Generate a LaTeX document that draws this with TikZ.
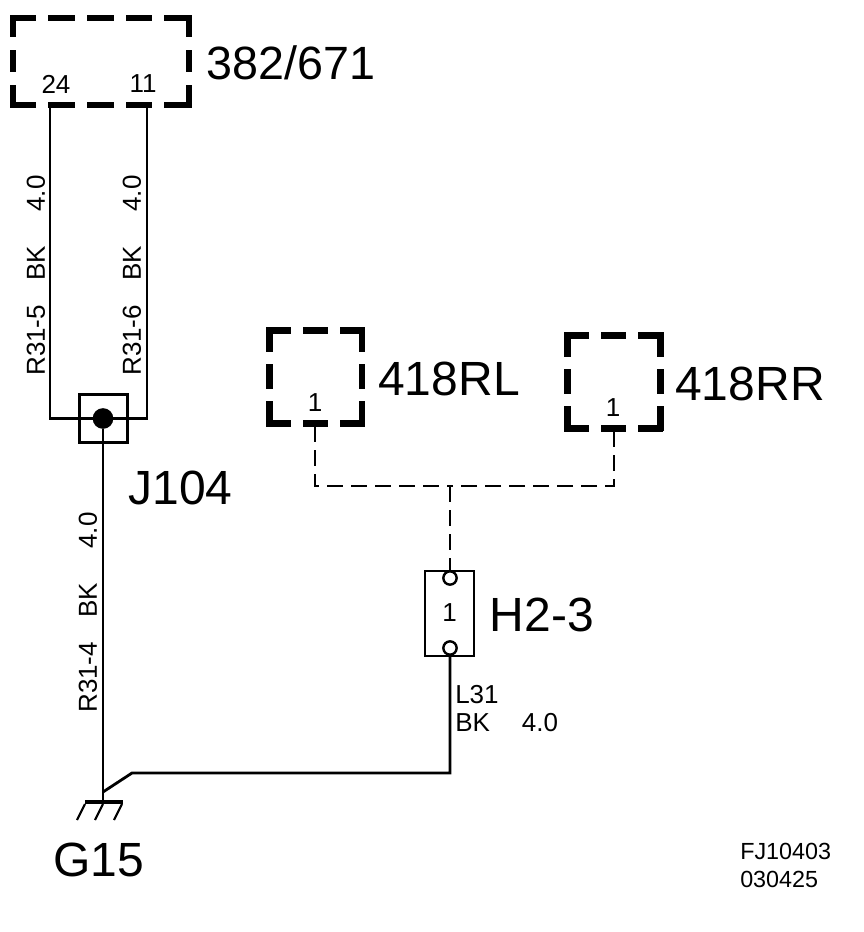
\documentclass[tikz,border=0pt]{standalone}
\usepackage{fontspec}
\setmainfont{Liberation Sans}
\usetikzlibrary{positioning}

\tikzset{
    wire/.style = {line width=2.1pt},
    thinwire/.style = {line width=1.7pt},
    dashwire/.style = {line width=1.9pt, dash pattern=on 12pt off 6pt},
    sidebox/.style = {rectangle, inner sep=0pt, minimum width=69pt, minimum height=69pt},
    sqdash/.style = {line width=4.9pt, line cap=rect, dash pattern=on 13.8pt off 13.8pt},
    bigh/.style = {line width=4.5pt, line cap=rect, dash pattern=on 15.5pt off 13.5pt},
    bigv/.style = {line width=4.5pt, line cap=rect, dash pattern=on 12.2pt off 14.3pt},
    biglabel/.style = {font=\fontsize{36}{40}\selectfont, inner sep=0pt},
    smalllabel/.style = {font=\fontsize{19.5}{21}\selectfont, inner sep=0pt},
    wirelabel/.style = {smalllabel, rotate=90, anchor=west},
    pinhole/.style = {circle, draw, fill=white, line width=1.8pt, inner sep=0pt, minimum size=10pt}
}

\begin{document}
\begin{tikzpicture} [x=0.75pt, y=-0.75pt]
    \useasboundingbox (0,0) rectangle (864,932);

    % boxes
    \node (ecu) [sidebox, minimum width=132pt, minimum height=65.25pt] at (101,61.5) {};
    \node (rl) [sidebox] at (315.5,377) {};
    \node (rr) [sidebox] at (614,382) {};
    \draw [bigh] (ecu.north west) -- (ecu.north east) (ecu.south west) -- (ecu.south east);
    \draw [bigv] (ecu.north west) -- (ecu.south west) (ecu.north east) -- (ecu.south east);
    \foreach \bx in {rl, rr}
        \draw [sqdash] (\bx.north west) -- (\bx.north east) (\bx.south west) -- (\bx.south east)
            (\bx.north west) -- (\bx.south west) (\bx.north east) -- (\bx.south east);

    \node (ecuname) [biglabel, font=\fontsize{35}{40}\selectfont] at (291,63) {382/671};
    \node (rlname) [biglabel] at (449,379) {418RL};
    \node (rrname) [biglabel] at (750,384) {418RR};

    \node (pin24) [smalllabel] at (56,84) {24};
    \node (pin11) [smalllabel] at (143,84) {11};
    \node (pinrl) [smalllabel] at (315,403) {1};
    \node (pinrr) [smalllabel] at (613,408) {1};

    \coordinate (end24) at (50,105);
    \coordinate (end11) at (147,105);
    \coordinate (endrl) at (315,426);
    \coordinate (endrr) at (614,431);

    % splice
    \node (j104) [draw, line width=2.3pt, minimum size=36pt, inner sep=0pt] at (103.5,418.5) {};
    \node (j104dot) [circle, fill=black, minimum size=15.5pt, inner sep=0pt] at (103,418.5) {};
    \node (j104name) [biglabel] at (180.5,488) {J104};

    % connector
    \node (h23) [draw, line width=1.9pt, minimum width=36.5pt, minimum height=63.5pt, inner sep=0pt] at (449.5,613.5) {};
    \node (h23num) [smalllabel] at (449.5,613) {1};
    \node (h23name) [biglabel] at (542,615) {H2-3};
    \coordinate (g15) at (103,802);
    \coordinate (split) at (450,486);

    % wires
    \draw [thinwire] (end24) |- (j104dot.center) -| (end11);
    \draw [wire] (j104dot) -- (g15);
    \draw [dashwire] (endrl) |- (split);
    \draw [dashwire] (endrr) |- (split);
    \draw [dashwire] (split) -- (450,575);
    \node (h23top) [pinhole] at (450,578) {};
    \node (h23bot) [pinhole] at (450,648) {};
    \draw [wire] (h23bot) -- (450,773) -- (132,773) -- (103,792);

    % ground
    \draw [line width=3pt] (85,802) -- (123,802);
    \foreach \gx in {85,103,122}
        \draw [line width=1.6pt] (\gx,804) -- ++(-8,16);
    \node (g15name) [biglabel] at (99,860) {G15};

    % wire labels
    \node (lab245) [wirelabel] at (36,376) {R31-5\hspace{18pt}BK\hspace{26pt}4.0};
    \node (lab116) [wirelabel] at (132,376) {R31-6\hspace{18pt}BK\hspace{26pt}4.0};
    \node (lab314) [wirelabel] at (88,713) {R31-4\hspace{18pt}BK\hspace{26pt}4.0};
    \node (labl31) [smalllabel, align=left, anchor=north west] at (455,685) {L31\\BK\hspace{24pt}4.0};

    \node (stamp) [font=\fontsize{17.5}{21}\selectfont, inner sep=0pt, align=left, anchor=north west] at (740,843) {FJ10403\\030425};
\end{tikzpicture}
\end{document}
